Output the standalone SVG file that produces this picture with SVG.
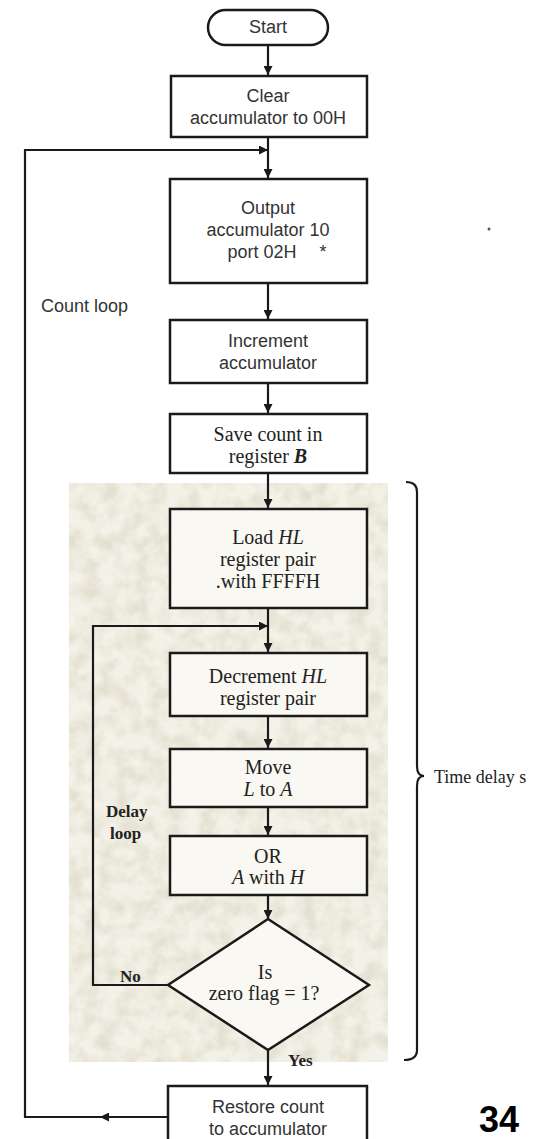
<svg xmlns="http://www.w3.org/2000/svg" width="538" height="1139" viewBox="0 0 538 1139">
<defs>
<marker id="ah" viewBox="0 0 10 10" refX="10" refY="5" markerWidth="10" markerHeight="9" markerUnits="userSpaceOnUse" orient="auto">
<path d="M0,0 L10,5 L0,10 z" fill="#1a1a1a"/>
</marker>
<filter id="stain" x="0" y="0" width="100%" height="100%">
<feTurbulence type="fractalNoise" baseFrequency="0.06" numOctaves="3" seed="4" result="n"/>
<feColorMatrix in="n" type="matrix" values="0 0 0 0 0.55  0 0 0 0 0.52  0 0 0 0 0.38  0 0 0 -2.2 1.45"/>
</filter>
<style>
.box{fill:#fff;stroke:#1a1a1a;stroke-width:2.5}
.sbox{fill:#f9f8f2;stroke:#1a1a1a;stroke-width:2.5}
.ln{fill:none;stroke:#1a1a1a;stroke-width:2.2}
.sans{font-family:"Liberation Sans",Arial,sans-serif;font-size:18px;fill:#333;text-anchor:middle}
.ser{font-family:"Liberation Serif","Times New Roman",serif;font-size:20px;fill:#222;text-anchor:middle}
.lab{font-family:"Liberation Serif","Times New Roman",serif;font-size:17px;fill:#222;font-weight:bold}
</style>
</defs>
<rect width="538" height="1139" fill="#fff"/>
<g id="stain-bg">
<rect x="69" y="483" width="319" height="579" fill="#f4f2e8"/>
<rect x="69" y="483" width="319" height="579" filter="url(#stain)" opacity="0.35"/>
</g>
<g id="connectors">
<line class="ln" x1="268" y1="45" x2="268" y2="75" marker-end="url(#ah)"/>
<line class="ln" x1="268" y1="137" x2="268" y2="178" marker-end="url(#ah)"/>
<line class="ln" x1="268" y1="283" x2="268" y2="319" marker-end="url(#ah)"/>
<line class="ln" x1="268" y1="383" x2="268" y2="413" marker-end="url(#ah)"/>
<line class="ln" x1="268" y1="473" x2="268" y2="508" marker-end="url(#ah)"/>
<line class="ln" x1="268" y1="608" x2="268" y2="652" marker-end="url(#ah)"/>
<line class="ln" x1="268" y1="716" x2="268" y2="748" marker-end="url(#ah)"/>
<line class="ln" x1="268" y1="807" x2="268" y2="835" marker-end="url(#ah)"/>
<line class="ln" x1="268" y1="895" x2="268" y2="919" marker-end="url(#ah)"/>
<line class="ln" x1="268" y1="1050" x2="268" y2="1085" marker-end="url(#ah)"/>
<path class="ln" d="M168,985 L93,985 L93,626 L268,626" marker-end="url(#ah)"/>
<path class="ln" d="M168,1117 L100,1117" marker-end="url(#ah)"/>
<path class="ln" d="M100,1117 L25,1117 L25,150 L268,150" marker-end="url(#ah)"/>
<path class="ln" d="M406,482 Q417,482 417,492 L417,766 Q417,776 424,776 Q417,776 417,786 L417,1050 Q417,1060 404,1060"/>
</g>
<g id="start">
<rect class="box" x="208" y="10" width="120" height="35" rx="17.5"/>
<text class="sans" x="268" y="33" font-size="16">Start</text>
</g>
<g id="clear">
<rect class="box" x="171" y="76" width="196" height="61"/>
<text class="sans" x="268" y="102">Clear</text>
<text class="sans" x="268" y="124">accumulator to 00H</text>
</g>
<g id="output">
<rect class="box" x="170" y="179" width="197" height="104"/>
<text class="sans" x="268" y="214">Output</text>
<text class="sans" x="268" y="236">accumulator 10</text>
<text class="sans" x="262" y="258">port 02H</text>
<text class="sans" x="323" y="258" font-size="11">*</text>
</g>
<circle cx="489" cy="229" r="1.5" fill="#555"/>
<g id="increment">
<rect class="box" x="170" y="320" width="197" height="63"/>
<text class="sans" x="268" y="347">Increment</text>
<text class="sans" x="268" y="369">accumulator</text>
</g>
<g id="save">
<rect class="box" x="170" y="414" width="197" height="59"/>
<text class="ser" x="268" y="441">Save count in</text>
<text class="ser" x="268" y="463">register <tspan font-style="italic" font-weight="bold">B</tspan></text>
</g>
<g id="load">
<rect class="sbox" x="170" y="509" width="197" height="99"/>
<text class="ser" x="268" y="544">Load <tspan font-style="italic">HL</tspan></text>
<text class="ser" x="268" y="566">register pair</text>
<text class="ser" x="268" y="588">.with FFFFH</text>
</g>
<g id="decrement">
<rect class="sbox" x="170" y="653" width="197" height="63"/>
<text class="ser" x="268" y="683">Decrement <tspan font-style="italic">HL</tspan></text>
<text class="ser" x="268" y="705">register pair</text>
</g>
<g id="move">
<rect class="sbox" x="170" y="749" width="197" height="58"/>
<text class="ser" x="268" y="774">Move</text>
<text class="ser" x="268" y="796"><tspan font-style="italic">L</tspan> to <tspan font-style="italic">A</tspan></text>
</g>
<g id="or">
<rect class="sbox" x="170" y="836" width="197" height="59"/>
<text class="ser" x="268" y="863">OR</text>
<text class="ser" x="268" y="884"><tspan font-style="italic">A</tspan> with <tspan font-style="italic">H</tspan></text>
</g>
<g id="decision">
<polygon points="268,919 369,985 268,1050 168,985" fill="#f9f8f2" stroke="#1a1a1a" stroke-width="2.5"/>
<text class="ser" x="265" y="979" font-size="17">Is</text>
<text class="ser" x="264" y="1000" font-size="19">zero flag = 1?</text>
</g>
<g id="restore">
<rect class="box" x="168" y="1086" width="199" height="60"/>
<text class="sans" x="268" y="1113">Restore count</text>
<text class="sans" x="268" y="1135">to accumulator</text>
</g>
<g id="labels">
<text x="41" y="312" font-family="Liberation Sans, Arial, sans-serif" font-size="18" fill="#333">Count loop</text>
<text class="lab" x="106" y="817">Delay</text>
<text class="lab" x="110" y="839">loop</text>
<text class="lab" x="120" y="982">No</text>
<text class="lab" x="288" y="1066" font-size="16">Yes</text>
<text x="434" y="783" font-family="Liberation Serif, Times New Roman, serif" font-size="18" fill="#222">Time delay s</text>
<text x="479" y="1132" font-family="Liberation Sans, Arial, sans-serif" font-size="36" font-weight="bold" fill="#000">34</text>
</g>
</svg>
